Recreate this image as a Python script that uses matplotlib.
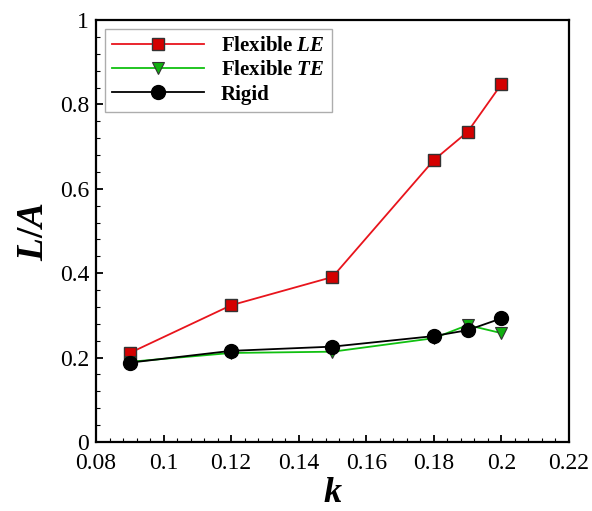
import matplotlib
matplotlib.use("Agg")
import matplotlib.pyplot as plt
from matplotlib.ticker import MultipleLocator, FuncFormatter

plt.rcParams['font.family'] = ['Liberation Serif', 'DejaVu Serif']
plt.rcParams['mathtext.fontset'] = 'custom'
plt.rcParams['mathtext.it'] = 'Liberation Serif:italic:bold'
plt.rcParams['mathtext.rm'] = 'Liberation Serif:bold'
plt.rcParams['mathtext.bf'] = 'Liberation Serif:bold'

k = [0.09, 0.12, 0.15, 0.18, 0.19, 0.20]
flex_le = [0.211, 0.324, 0.391, 0.668, 0.735, 0.848]
flex_te = [0.190, 0.211, 0.214, 0.246, 0.277, 0.258]
rigid = [0.188, 0.216, 0.226, 0.251, 0.265, 0.293]

fig = plt.figure(figsize=(5.92, 5.11), dpi=100)
ax = fig.add_axes([96/592, 1-442/511, (569-96)/592, (442-20)/511])

ax.plot(k, flex_le, color='#e8141c', lw=1.3, marker='s', ms=8.5,
        mfc='#d40000', mec='#333333', mew=1.0, label='Flexible $LE$')
ax.plot(k, flex_te, color='#10c010', lw=1.3, marker='v', ms=9,
        mfc='#10b010', mec='#333333', mew=0.8, label='Flexible $TE$')
ax.plot(k, rigid, color='black', lw=1.3, marker='o', ms=10,
        mfc='black', mec='black', label='Rigid')

ax.set_xlim(0.08, 0.22)
ax.set_ylim(0, 1)
ax.xaxis.set_major_locator(MultipleLocator(0.02))
ax.xaxis.set_minor_locator(MultipleLocator(0.004))
ax.yaxis.set_major_locator(MultipleLocator(0.2))
ax.yaxis.set_minor_locator(MultipleLocator(0.04))
fmt = FuncFormatter(lambda v, p: ('%.2f' % v).rstrip('0').rstrip('.') if abs(v) > 1e-9 else '0')
ax.xaxis.set_major_formatter(fmt)
ax.yaxis.set_major_formatter(fmt)

ax.tick_params(which='both', direction='in', top=False, right=False, labelsize=17)
ax.tick_params(which='major', length=5, width=1.3)
ax.tick_params(which='minor', length=3, width=0.8)
ax.tick_params(axis='x', pad=8)
ax.tick_params(axis='y', pad=5)
for s in ax.spines.values():
    s.set_linewidth(1.6)

ax.set_xlabel('$k$', fontsize=26, labelpad=2)
ax.set_ylabel('$L/A$', fontsize=27, labelpad=6)

leg = ax.legend(loc='upper left', bbox_to_anchor=(9/473, 1-9/422), borderaxespad=0,
                fancybox=False, prop={'weight': 'bold', 'size': 15}, handlelength=4.4,
                borderpad=0.35, labelspacing=0.2, handletextpad=0.8, markerfirst=True)
leg.get_frame().set_edgecolor('#999999')
leg.get_frame().set_linewidth(1.0)

fig.savefig('out.png', dpi=100)
